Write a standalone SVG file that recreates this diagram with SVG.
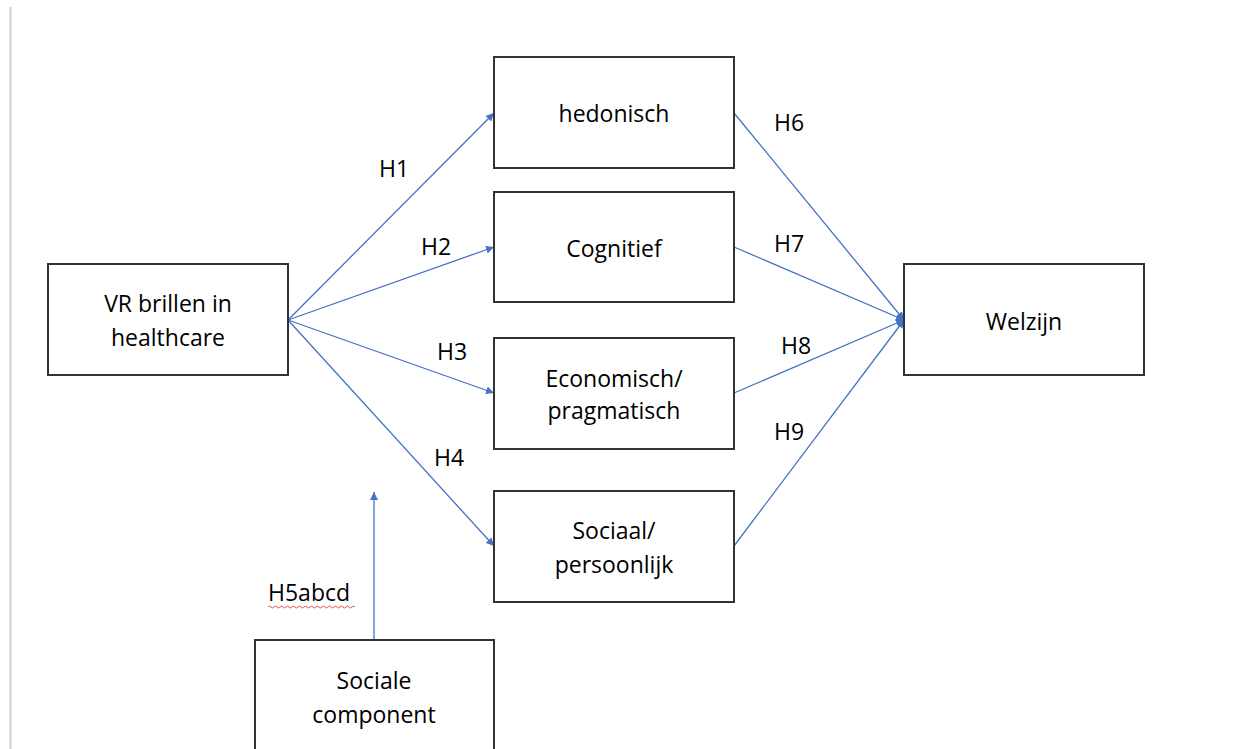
<svg xmlns="http://www.w3.org/2000/svg" width="1257" height="749" viewBox="0 0 1257 749">
<defs>
<marker id="ah" viewBox="0 0 10 10" refX="10" refY="5" markerWidth="8" markerHeight="8" markerUnits="userSpaceOnUse" orient="auto">
<path d="M0,0 L10,5 L0,10 z" fill="#4472C4"/>
</marker>
</defs>
<style>
.box{fill:#fff;stroke:#333;stroke-width:2}
.t{font-family:"Open Sans","Liberation Sans",sans-serif;font-size:23px;fill:#000;text-anchor:middle}
.l{font-family:"Open Sans","Liberation Sans",sans-serif;font-size:23px;fill:#000}
.c{stroke:#4472C4;stroke-width:1.3;fill:none;marker-end:url(#ah)}
</style>
<rect width="1257" height="749" fill="#fff"/>
<line x1="10.5" y1="7" x2="10.5" y2="749" stroke="#d0d0d0" stroke-width="2"/>
<g id="connectors">
<line class="c" x1="288" y1="320" x2="494" y2="113"/>
<line class="c" x1="288" y1="320" x2="494" y2="247"/>
<line class="c" x1="288" y1="320" x2="494" y2="393"/>
<line class="c" x1="288" y1="320" x2="494" y2="546"/>
<line class="c" x1="734" y1="113" x2="904" y2="320"/>
<line class="c" x1="734" y1="247" x2="904" y2="320"/>
<line class="c" x1="734" y1="393" x2="904" y2="320"/>
<line class="c" x1="734" y1="546" x2="904" y2="320"/>
<line class="c" x1="374" y1="640" x2="374" y2="492"/>
<text class="l" x="379" y="177">H1</text>
<text class="l" x="421" y="255">H2</text>
<text class="l" x="437" y="360">H3</text>
<text class="l" x="434" y="466">H4</text>
<text class="l" x="268" y="601">H5abcd</text>
<path d="M268,607 q1.5,-2 3,0 t3,0 t3,0 t3,0 t3,0 t3,0 t3,0 t3,0 t3,0 t3,0 t3,0 t3,0 t3,0 t3,0 t3,0 t3,0 t3,0 t3,0 t3,0 t3,0 t3,0 t3,0 t3,0 t3,0 t3,0 t3,0 t3,0 t3,0 t3,0" stroke="#e05050" stroke-width="1" fill="none"/>
<text class="l" x="774" y="131">H6</text>
<text class="l" x="774" y="252">H7</text>
<text class="l" x="781" y="354">H8</text>
<text class="l" x="774" y="440">H9</text>
</g>
<g id="vr">
<rect class="box" x="48" y="264" width="240" height="111"/>
<text class="t" x="168" y="312">VR brillen in</text>
<text class="t" x="168" y="346">healthcare</text>
</g>
<g id="hedonisch">
<rect class="box" x="494" y="57" width="240" height="111"/>
<text class="t" x="614" y="122">hedonisch</text>
</g>
<g id="cognitief">
<rect class="box" x="494" y="192" width="240" height="110"/>
<text class="t" x="614" y="257">Cognitief</text>
</g>
<g id="economisch">
<rect class="box" x="494" y="338" width="240" height="111"/>
<text class="t" x="614" y="387">Economisch/</text>
<text class="t" x="614" y="419">pragmatisch</text>
</g>
<g id="sociaal">
<rect class="box" x="494" y="491" width="240" height="111"/>
<text class="t" x="614" y="539">Sociaal/</text>
<text class="t" x="614" y="573">persoonlijk</text>
</g>
<g id="welzijn">
<rect class="box" x="904" y="264" width="240" height="111"/>
<text class="t" x="1024" y="330">Welzijn</text>
</g>
<g id="sociale">
<rect class="box" x="255" y="640" width="239" height="120"/>
<text class="t" x="374" y="689">Sociale</text>
<text class="t" x="374" y="723">component</text>
</g>
</svg>
